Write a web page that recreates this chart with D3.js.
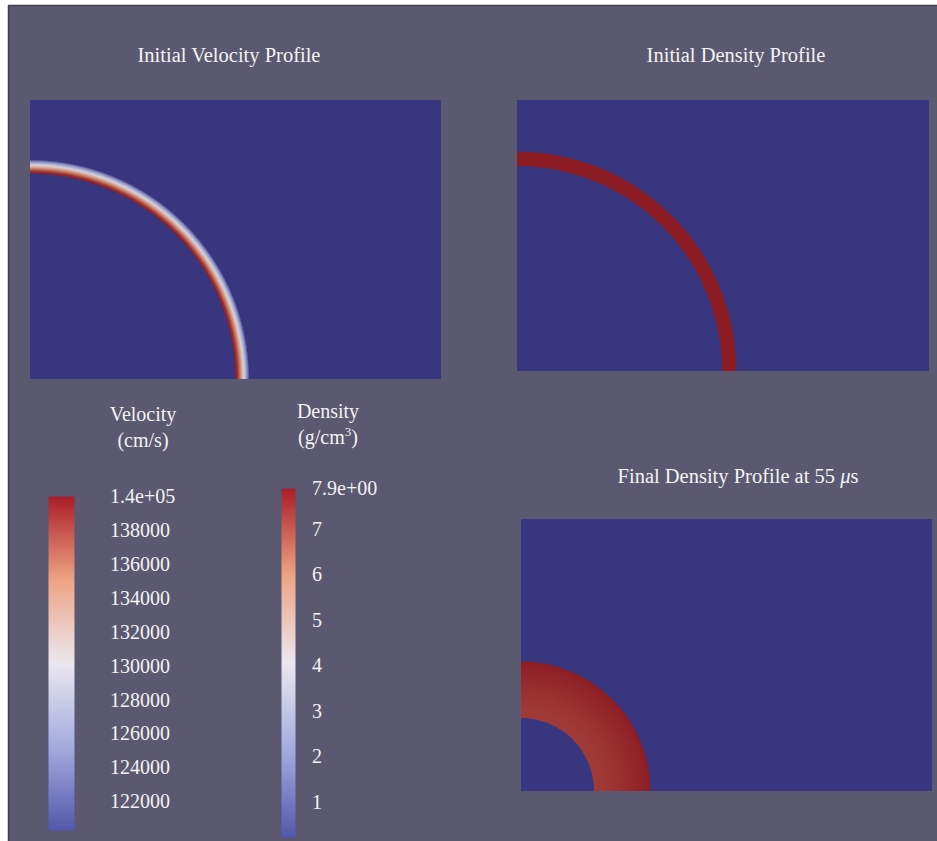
<!DOCTYPE html>
<html>
<head>
<meta charset="utf-8">
<script src="https://cdn.jsdelivr.net/npm/d3@7"></script>
<style>
  html, body { margin: 0; padding: 0; background: #ffffff; }
  svg { display: block; }
  text { font-family: "Liberation Serif", "DejaVu Serif", serif; fill: #f3f3f5; }
</style>
</head>
<body>
<svg id="fig" width="937" height="841"></svg>
<script>
// ---- colour-bar data ----
const velocityDomain = [120250, 140000];
const velocityTicks = [122000, 124000, 126000, 128000, 130000, 132000, 134000, 136000, 138000];
const velocityMaxLabel = "1.4e+05";
const densityDomain = [0.2, 7.9];
const densityTicks = [1, 2, 3, 4, 5, 6, 7];
const densityMaxLabel = "7.9e+00";

// ---- radial profiles (radius in cm from the domain corner) ----
const velocityRadius = [1.50, 1.515, 1.53, 1.545, 1.56, 1.575, 1.59, 1.602];
const velocityValue  = [140000, 139000, 136500, 133500, 130500, 127500, 124000, 120250];
const densityInitRadius = [1.493, 1.597];
const densityInitValue  = [7.9, 7.9];
const densityFinalRadius = [0.533, 0.60, 0.70, 0.80, 0.90, 0.945];
const densityFinalValue  = [7.35, 7.40, 7.50, 7.65, 7.80, 7.90];
const domainWidthCm = 3.0;

// ---- titles ----
const panelTitles = ["Initial Velocity Profile", "Initial Density Profile", "Final Density Profile at 55 "];

// colour maps: bar palette and the shaded palette used in the rendered domains
const barStops = ["#5357aa", "#a3abde", "#ebe7ee", "#eea383", "#a81c25"];
const shadeStops = ["#37367f", "#8a92c8", "#d6d6e2", "#d48a6a", "#8c1c23"];

const svg = d3.select("#fig");
const defs = svg.append("defs");

// page frame
svg.append("rect").attr("x", 8).attr("y", 5).attr("width", 929).attr("height", 836).attr("fill", "#5b596f");
svg.append("line").attr("x1", 8).attr("x2", 937).attr("y1", 5.5).attr("y2", 5.5).attr("stroke", "#3f3e52").attr("stroke-width", 1.5);
svg.append("line").attr("x1", 8.5).attr("x2", 8.5).attr("y1", 5).attr("y2", 841).attr("stroke", "#3f3e52").attr("stroke-width", 1.5);

const velBar = d3.scaleSequential(d3.piecewise(d3.interpolateRgb, barStops)).domain(velocityDomain);
const denBar = d3.scaleSequential(d3.piecewise(d3.interpolateRgb, barStops)).domain(densityDomain);
const velShade = d3.scaleSequential(d3.piecewise(d3.interpolateRgb, shadeStops)).domain(velocityDomain);
const denShade = d3.scaleSequential(d3.piecewise(d3.interpolateRgb, shadeStops)).domain(densityDomain);

// ---- domain panels ----
const panels = [
  { x: 30,  y: 100, w: 411, h: 279, title: panelTitles[0], tx: 229, ty: 55,
    radius: velocityRadius, value: velocityValue, color: velShade, bg: velocityDomain[0], soft: true },
  { x: 517, y: 100, w: 412, h: 271, title: panelTitles[1], tx: 736, ty: 55,
    radius: densityInitRadius, value: densityInitValue, color: denShade, bg: densityDomain[0] },
  { x: 521, y: 519, w: 411, h: 272, title: panelTitles[2], tx: 738, ty: 476,
    radius: densityFinalRadius, value: densityFinalValue, color: denShade, bg: densityDomain[0], micro: true }
];

defs.append("filter").attr("id", "soft").append("feGaussianBlur").attr("stdDeviation", 0.6);

panels.forEach((p, i) => {
  const xs = d3.scaleLinear().domain([0, domainWidthCm]).range([p.x, p.x + p.w]);
  const len = r => xs(r) - xs(0);
  const cx = xs(0), cy = p.y + p.h;

  defs.append("clipPath").attr("id", "clip" + i)
    .append("rect").attr("x", p.x).attr("y", p.y).attr("width", p.w).attr("height", p.h);

  const g = svg.append("g").attr("clip-path", `url(#clip${i})`);
  g.append("rect").attr("x", p.x).attr("y", p.y).attr("width", p.w).attr("height", p.h)
    .attr("fill", p.color(p.bg));

  const rIn = len(p.radius[0]);
  const rOut = len(p.radius[p.radius.length - 1]);
  // gradient centred on the path's own origin (the domain corner)
  const grad = defs.append("radialGradient").attr("id", "grad" + i)
    .attr("gradientUnits", "userSpaceOnUse")
    .attr("cx", 0).attr("cy", 0).attr("fx", 0).attr("fy", 0).attr("r", rOut);
  grad.selectAll("stop").data(p.radius).join("stop")
    .attr("offset", r => len(r) / rOut)
    .attr("stop-color", (r, j) => p.color(p.value[j]));

  const arc = d3.arc().innerRadius(rIn).outerRadius(rOut).startAngle(0).endAngle(Math.PI / 2);
  const ring = g.append("path").attr("d", arc()).attr("transform", `translate(${cx},${cy})`)
    .attr("fill", `url(#grad${i})`);
  if (p.soft) ring.attr("filter", "url(#soft)");

  const t = svg.append("text").attr("x", p.tx).attr("y", p.ty).attr("dy", "0.35em")
    .attr("text-anchor", "middle").attr("font-size", 20.5).text(p.title);
  if (p.micro) {
    t.append("tspan").attr("font-style", "italic").text("\u03bc");
    t.append("tspan").text("s");
  }
});

// ---- colour bars ----
function colorBar(id, scale, ticks, maxLabel, x, w, yRange, labelX, title, titleX) {
  const ys = d3.scaleLinear().domain(scale.domain()).range(yRange);
  const lg = defs.append("linearGradient").attr("id", id)
    .attr("x1", 0).attr("y1", 1).attr("x2", 0).attr("y2", 0);
  const n = 40;
  lg.selectAll("stop").data(d3.range(n + 1)).join("stop")
    .attr("offset", k => k / n)
    .attr("stop-color", k => scale(scale.domain()[0] + (scale.domain()[1] - scale.domain()[0]) * k / n));
  svg.append("rect").attr("x", x).attr("y", ys(scale.domain()[1])).attr("width", w)
    .attr("height", ys(scale.domain()[0]) - ys(scale.domain()[1]))
    .attr("fill", `url(#${id})`).attr("stroke", "#54597e").attr("stroke-width", 1);

  const labels = ticks.map(v => ({ v, s: String(v) })).concat([{ v: scale.domain()[1], s: maxLabel }]);
  svg.selectAll(null).data(labels).join("text")
    .attr("x", labelX).attr("y", d => ys(d.v)).attr("dy", "0.35em")
    .attr("font-size", 20).text(d => d.s);

  const tt = svg.append("text").attr("text-anchor", "middle").attr("font-size", 20);
  tt.append("tspan").attr("x", titleX).attr("y", title.y).text(title.l1);
  tt.append("tspan").attr("x", titleX).attr("y", title.y + 26).text(title.l2[0]);
  if (title.l2.length > 1) {
    tt.append("tspan").attr("font-size", 13).attr("dy", -8).text(title.l2[1]);
    tt.append("tspan").attr("dy", 8).text(title.l2[2]);
  }
}

colorBar("velBar", velBar, velocityTicks, velocityMaxLabel, 48, 27, [831, 496], 110,
  { l1: "Velocity", l2: ["(cm/s)"], y: 421 }, 143);
colorBar("denBar", denBar, densityTicks, densityMaxLabel, 281, 15, [838, 488], 312,
  { l1: "Density", l2: ["(g/cm", "3", ")"], y: 418 }, 328);
</script>
</body>
</html>
